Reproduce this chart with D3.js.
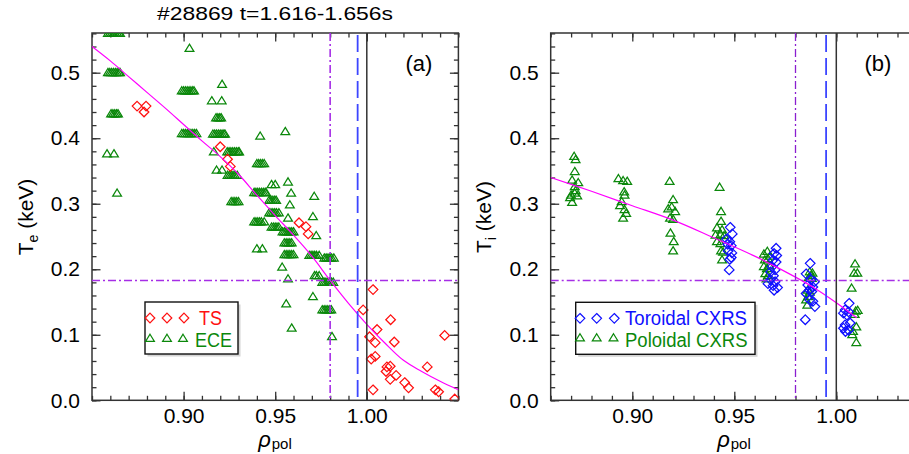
<!DOCTYPE html>
<html><head><meta charset="utf-8">
<script src="https://cdn.jsdelivr.net/npm/d3@7"></script>
<style>
body{margin:0;background:#fff}
svg{display:block}
text{font-family:"Liberation Sans",Arial,Helvetica,sans-serif}
</style>
</head><body>
<svg id="c" width="909" height="454"></svg>
<script>
// ---------------- data ----------------
const title = "#28869 t=1.616-1.656s";
const yMajor = [0.0, 0.1, 0.2, 0.3, 0.4, 0.5];
const xMajorLabels = [0.90, 0.95, 1.00];
const rhoLines = [0.98, 0.995, 1.00];   // dash-dot, dashed, solid
const teLine = 0.183;

// ECE: [Te, [rho values]] (overlapping channels at the same Te)
const eceGroups = [
 [0.560,[0.8587,0.8597,0.8607,0.8617,0.8627,0.8637,0.8647,0.8653]],
 [0.500,[0.8587,0.8597,0.8607,0.8617,0.8627,0.8637,0.8647,0.8653]],
 [0.437,[0.8604,0.8614,0.8624,0.8634,0.8642]],
 [0.376,[0.8582,0.8620]],
 [0.316,[0.8637]],
 [0.537,[0.9032]],
 [0.472,[0.8990,0.9000,0.9010,0.9020,0.9030,0.9040,0.9050,0.9057]],
 [0.407,[0.8990,0.9000,0.9010,0.9020,0.9030,0.9040,0.9050,0.9060,0.9070]],
 [0.482,[0.9210]],
 [0.457,[0.9154,0.9208]],
 [0.431,[0.9177,0.9187,0.9197,0.9205]],
 [0.406,[0.9160,0.9170,0.9180,0.9190,0.9200,0.9210,0.9220,0.9226]],
 [0.403,[0.9418]],
 [0.410,[0.9555]],
 [0.379,[0.9165,0.9238,0.9248,0.9258,0.9268,0.9278,0.9288,0.9298,0.9303]],
 [0.351,[0.9180,0.9210]],
 [0.343,[0.9240,0.9250,0.9260,0.9270,0.9280,0.9293]],
 [0.361,[0.9400,0.9410,0.9420,0.9430,0.9440]],
 [0.333,[0.9570]],
 [0.329,[0.9480,0.9500]],
 [0.316,[0.9587]],
 [0.311,[0.9713]],
 [0.303,[0.9260,0.9270,0.9280,0.9290,0.9300]],
 [0.317,[0.9385,0.9395,0.9405,0.9415,0.9425,0.9435,0.9445,0.9450]],
 [0.305,[0.9467,0.9477,0.9487,0.9497,0.9505]],
 [0.298,[0.9580]],
 [0.286,[0.9467,0.9477,0.9487,0.9497,0.9507,0.9520]],
 [0.280,[0.9706]],
 [0.278,[0.9570]],
 [0.272,[0.9385,0.9395,0.9405,0.9415,0.9425,0.9440]],
 [0.264,[0.9480,0.9490,0.9500,0.9510,0.9520]],
 [0.257,[0.9540,0.9550,0.9560,0.9570,0.9580,0.9590,0.9600]],
 [0.251,[0.9724]],
 [0.240,[0.9550,0.9560,0.9570,0.9580,0.9590]],
 [0.231,[0.9400,0.9430]],
 [0.222,[0.9550,0.9560,0.9570,0.9580,0.9590,0.9600]],
 [0.221,[0.9686,0.9696,0.9706,0.9716,0.9726,0.9740]],
 [0.217,[0.9768,0.9778,0.9788,0.9798,0.9808,0.9820]],
 [0.203,[0.9538]],
 [0.185,[0.9570]],
 [0.147,[0.9560]],
 [0.110,[0.9590]],
 [0.190,[0.9715,0.9725,0.9740]],
 [0.158,[0.9706]],
 [0.180,[0.9757,0.9767,0.9777,0.9787,0.9797,0.9807,0.9817]],
 [0.138,[0.9757,0.9767,0.9777,0.9787,0.9797,0.9806]],
 [0.097,[0.9810]]
];

// Thomson scattering [rho, Te]
const tsData = [
 [0.8746,0.449],[0.8795,0.449],[0.8784,0.440],
 [0.9200,0.387],[0.9240,0.368],[0.9255,0.357],
 [0.9630,0.271],[0.9668,0.265],[0.9680,0.254],
 [1.0034,0.169],[0.9980,0.138],[1.0130,0.123],[1.0056,0.108],[1.0015,0.097],
 [1.0046,0.088],[1.0150,0.089],[1.0425,0.099],[1.0024,0.063],[1.0046,0.067],
 [1.0110,0.051],[1.0128,0.052],[1.0105,0.044],[1.0128,0.032],[1.0160,0.038],
 [1.0207,0.027],[1.0228,0.019],[1.0330,0.051],[1.0374,0.016],[1.0392,0.013],
 [1.0034,0.016],[1.0480,0.002]
];

// Te fit [rho, Te]
const fitTe = [
 [0.85,0.540],[0.86,0.518],[0.87,0.494],[0.88,0.470],[0.89,0.446],[0.90,0.421],
 [0.91,0.396],[0.92,0.372],[0.93,0.345],[0.94,0.313],[0.95,0.282],[0.96,0.252],
 [0.97,0.220],[0.98,0.183],[0.99,0.148],[1.00,0.116],[1.01,0.087],[1.02,0.061],
 [1.03,0.044],[1.04,0.029],[1.05,0.016]
];

// Toroidal CXRS [rho, Ti]
const torData = [
 [0.9480,0.264],[0.9490,0.254],[0.9462,0.246],[0.9478,0.242],[0.9468,0.238],[0.9485,0.236],
 [0.9470,0.228],[0.9488,0.225],[0.9485,0.218],[0.9478,0.215],[0.9475,0.199],
 [0.9705,0.232],[0.9695,0.224],[0.9708,0.221],[0.9690,0.214],[0.9705,0.211],[0.9685,0.204],
 [0.9700,0.199],[0.9678,0.196],[0.9692,0.190],[0.9678,0.184],[0.9700,0.181],[0.9665,0.178],
 [0.9690,0.175],[0.9712,0.172],[0.9695,0.168],
 [0.9872,0.209],[0.9852,0.193],[0.9876,0.184],[0.9893,0.181],[0.9860,0.176],[0.9885,0.173],
 [0.9868,0.168],[0.9880,0.166],[0.9852,0.163],[0.9870,0.153],[0.9885,0.151],[0.9895,0.143],
 [0.9848,0.123],
 [1.0063,0.148],[1.0043,0.138],[1.0060,0.135],[1.0035,0.133],[1.0052,0.130],[1.0043,0.115],
 [1.0068,0.118],[1.0035,0.110],[1.0060,0.107],[1.0045,0.105]
];

// Poloidal CXRS [rho, Ti]
const polData = [
 [0.8715,0.372],[0.8722,0.367],[0.8718,0.349],[0.8705,0.336],[0.8735,0.332],[0.8718,0.326],
 [0.8722,0.320],[0.8700,0.313],[0.8718,0.316],[0.8695,0.309],[0.8705,0.302],[0.8730,0.312],
 [0.8932,0.338],[0.8955,0.335],[0.8975,0.334],[0.8960,0.318],[0.8962,0.313],[0.8948,0.303],
 [0.8940,0.297],[0.8962,0.291],[0.8970,0.285],[0.8955,0.278],
 [0.9183,0.334],[0.9200,0.306],[0.9176,0.292],[0.9193,0.295],[0.9210,0.288],[0.9185,0.278],
 [0.9200,0.276],[0.9187,0.255],[0.9203,0.242],[0.9200,0.228],
 [0.9428,0.325],[0.9435,0.288],[0.9435,0.273],[0.9415,0.263],[0.9440,0.260],[0.9408,0.252],
 [0.9433,0.253],[0.9450,0.251],[0.9415,0.242],[0.9432,0.239],[0.9435,0.228],[0.9445,0.226],
 [0.9440,0.214],
 [0.9645,0.223],[0.9662,0.227],[0.9675,0.220],[0.9650,0.214],[0.9665,0.216],[0.9645,0.204],
 [0.9660,0.201],[0.9672,0.205],[0.9652,0.193],[0.9665,0.190],[0.9658,0.185],
 [0.9870,0.196],[0.9883,0.194],[0.9878,0.190],[0.9865,0.187],[0.9880,0.186],[0.9860,0.168],
 [0.9870,0.165],[0.9862,0.158],[0.9852,0.153],[0.9858,0.145],
 [1.0092,0.208],[1.0087,0.194],[1.0103,0.194],[1.0075,0.171],[1.0095,0.136],[1.0105,0.137],
 [1.0090,0.131],[1.0098,0.112],[1.0082,0.105],[1.0078,0.100],[1.0098,0.088]
];

// Ti fit [rho, Ti]
const fitTi = [
 [0.86,0.340],[0.88,0.319],[0.90,0.297],[0.92,0.275],[0.94,0.248],[0.96,0.220],
 [0.98,0.188],[0.99,0.170],[1.00,0.149],[1.01,0.126]
];

// ---------------- drawing ----------------
const svg = d3.select("#c");
const yTop = 33, yBot = 400.3;
const y = d3.scaleLinear().domain([0, 0.5606]).range([yBot, yTop]);
const xa = d3.scaleLinear().domain([0.85, 1.05]).range([92, 458.4]);
const xb = d3.scaleLinear().domain([0.86, 1.04]).range([550.7, 917.9]);

const GREEN = "#0b880b", RED = "#ff1010", BLUE = "#1010ff", MAG = "#ff00ff", PURPLE = "#a62ee6";
const AX = "#333";
const triPath = "M0,-4.3L4.4,2.9L-4.4,2.9Z";
const diaPath = "M0,-4.8L4.8,0L0,4.8L-4.8,0Z";

const defs = svg.append("defs");

function axes(x, id, withRight) {
  const [x0, x1] = x.range();
  const [d0, d1] = x.domain();
  const minorX = d3.range(Math.round(d0 * 100), Math.round(d1 * 100) + 1).map(v => v / 100);
  const minorY = d3.range(0, 29).map(v => v / 50);
  defs.append("clipPath").attr("id", id).append("rect")
    .attr("x", x0).attr("y", yTop).attr("width", x1 - x0).attr("height", yBot - yTop);
  const g = svg.append("g").attr("color", AX);
  const style = s => { s.select(".domain").remove();
    s.selectAll("line").attr("stroke-width", 1.3);
    s.attr("font-size", 21).attr("font-family", '"Liberation Sans",Arial,sans-serif');
    s.selectAll("text").attr("fill", "#000"); };
  g.append("g").attr("transform", `translate(0,${yBot})`)
    .call(d3.axisBottom(x).tickValues(minorX).tickSize(-4.5).tickFormat("")).call(style);
  g.append("g").attr("transform", `translate(0,${yBot})`)
    .call(d3.axisBottom(x).tickValues(xMajorLabels).tickSize(-8.5).tickPadding(8).tickFormat(d3.format(".2f"))).call(style);
  g.append("g").attr("transform", `translate(0,${yTop})`)
    .call(d3.axisTop(x).tickValues(minorX).tickSize(-4.5).tickFormat("")).call(style);
  g.append("g").attr("transform", `translate(0,${yTop})`)
    .call(d3.axisTop(x).tickValues(xMajorLabels).tickSize(-8.5).tickFormat("")).call(style);
  g.append("g").attr("transform", `translate(${x0},0)`)
    .call(d3.axisLeft(y).tickValues(minorY).tickSize(-4.5).tickFormat("")).call(style);
  g.append("g").attr("transform", `translate(${x0},0)`)
    .call(d3.axisLeft(y).tickValues(yMajor).tickSize(-8.5).tickPadding(12).tickFormat(d3.format(".1f"))).call(style);
  if (withRight) {
    g.append("g").attr("transform", `translate(${x1},0)`)
      .call(d3.axisRight(y).tickValues(minorY).tickSize(-4.5).tickFormat("")).call(style);
    g.append("g").attr("transform", `translate(${x1},0)`)
      .call(d3.axisRight(y).tickValues(yMajor).tickSize(-8.5).tickFormat("")).call(style);
  }
  svg.append("rect").attr("x", x0).attr("y", yTop).attr("width", x1 - x0).attr("height", yBot - yTop)
    .attr("fill", "none").attr("stroke", AX).attr("stroke-width", 1.5);
}

function refLines(x, id, vPurpleWidth, vPurpleColor) {
  const [x0, x1] = x.range();
  const g = svg.append("g").attr("clip-path", `url(#${id})`);
  g.append("line").attr("x1", x(rhoLines[0])).attr("x2", x(rhoLines[0])).attr("y1", yTop).attr("y2", yBot)
    .attr("stroke", vPurpleColor).attr("stroke-width", vPurpleWidth).attr("stroke-dasharray", "8,3,2,3");
  g.append("line").attr("x1", x(rhoLines[1])).attr("x2", x(rhoLines[1])).attr("y1", yTop + 2).attr("y2", yBot)
    .attr("stroke", "#3c46ff").attr("stroke-width", 1.8).attr("stroke-dasharray", "17,6");
  g.append("line").attr("x1", x(rhoLines[2])).attr("x2", x(rhoLines[2])).attr("y1", yTop).attr("y2", yBot)
    .attr("stroke", AX).attr("stroke-width", 1.5);
  g.append("line").attr("x1", x0).attr("x2", x1).attr("y1", y(teLine)).attr("y2", y(teLine))
    .attr("stroke", PURPLE).attr("stroke-width", 1.5).attr("stroke-dasharray", "8,3,2,3");
}

function marks(x, id, data, path, color) {
  svg.append("g").attr("clip-path", `url(#${id})`)
    .selectAll("path").data(data).join("path")
    .attr("d", path).attr("transform", d => `translate(${x(d[0])},${y(d[1])})`)
    .attr("fill", "none").attr("stroke", color).attr("stroke-width", 1.25);
}

function fitLine(x, id, data) {
  const line = d3.line().x(d => x(d[0])).y(d => y(d[1])).curve(d3.curveCatmullRom);
  svg.append("path").attr("clip-path", `url(#${id})`).attr("d", line(data))
    .attr("fill", "none").attr("stroke", MAG).attr("stroke-width", 1.2);
}

function legend(x0, y0, w, h, rows) {
  svg.append("rect").attr("x", x0 + 2.5).attr("y", y0 + 2.5).attr("width", w).attr("height", h).attr("fill", "#d4d4d4");
  svg.append("rect").attr("x", x0).attr("y", y0).attr("width", w).attr("height", h)
    .attr("fill", "#fff").attr("stroke", "#111").attr("stroke-width", 1.4);
  rows.forEach(r => {
    r.xs.forEach(mx => svg.append("path").attr("d", r.path).attr("transform", `translate(${mx},${r.my})`)
      .attr("fill", "none").attr("stroke", r.color).attr("stroke-width", 1.2));
    svg.append("text").attr("x", r.tx).attr("y", r.ty).attr("font-size", 20).attr("fill", r.color)
      .attr("textLength", r.tl).attr("lengthAdjust", "spacingAndGlyphs").text(r.label);
  });
}

function yTitle(xb0, sub) {
  const t = svg.append("text").attr("transform", `translate(${xb0},217) rotate(-90)`)
    .attr("text-anchor", "middle").attr("font-size", 21).attr("fill", "#000");
  t.append("tspan").text("T");
  t.append("tspan").attr("font-size", 14).attr("dy", 5).text(sub);
  t.append("tspan").attr("dy", -5).text(" (keV)");
}

function xTitle(cx) {
  const t = svg.append("text").attr("x", cx).attr("y", 447).attr("text-anchor", "middle").attr("fill", "#000");
  t.append("tspan").attr("font-size", 22).attr("font-style", "italic").text("ρ");
  t.append("tspan").attr("font-size", 15).attr("dx", 1).attr("dy", 2).text("pol");
}

// ----- panel (a)
const ece = eceGroups.flatMap(([t, rs]) => rs.map(r => [r, t]));
axes(xa, "clipA", true);
marks(xa, "clipA", ece, triPath, GREEN);
marks(xa, "clipA", tsData, diaPath, RED);
fitLine(xa, "clipA", fitTe);
refLines(xa, "clipA", 1.6, PURPLE);
svg.append("text").attr("x", 419).attr("y", 71).attr("text-anchor", "middle").attr("font-size", 22).text("(a)");
legend(145, 302, 93, 52, [
  {xs: [150, 167, 184], my: 318, path: diaPath, color: RED, label: "TS", tx: 199, ty: 324.5, tl: 23},
  {xs: [150, 167, 183], my: 338.5, path: triPath, color: GREEN, label: "ECE", tx: 195, ty: 346.5, tl: 37}
]);
yTitle(33, "e");
xTitle(275);
svg.append("text").attr("x", 275).attr("y", 19.5).attr("text-anchor", "middle").attr("font-size", 19)
  .attr("textLength", 236).attr("lengthAdjust", "spacingAndGlyphs").text(title);

// ----- panel (b)
axes(xb, "clipB", false);
marks(xb, "clipB", polData, triPath, GREEN);
marks(xb, "clipB", torData, diaPath, BLUE);
fitLine(xb, "clipB", fitTi);
refLines(xb, "clipB", 1.3, "#8a1fd0");
svg.append("text").attr("x", 878).attr("y", 71).attr("text-anchor", "middle").attr("font-size", 22).text("(b)");
legend(575.7, 302.3, 179.3, 52, [
  {xs: [580, 596.7, 614.3], my: 318.3, path: diaPath, color: BLUE, label: "Toroidal CXRS", tx: 625, ty: 324.5, tl: 122},
  {xs: [580, 596.7, 613.5], my: 338, path: triPath, color: GREEN, label: "Poloidal CXRS", tx: 625, ty: 346.5, tl: 122.5}
]);
yTitle(491, "i");
xTitle(734);
</script>
</body></html>
